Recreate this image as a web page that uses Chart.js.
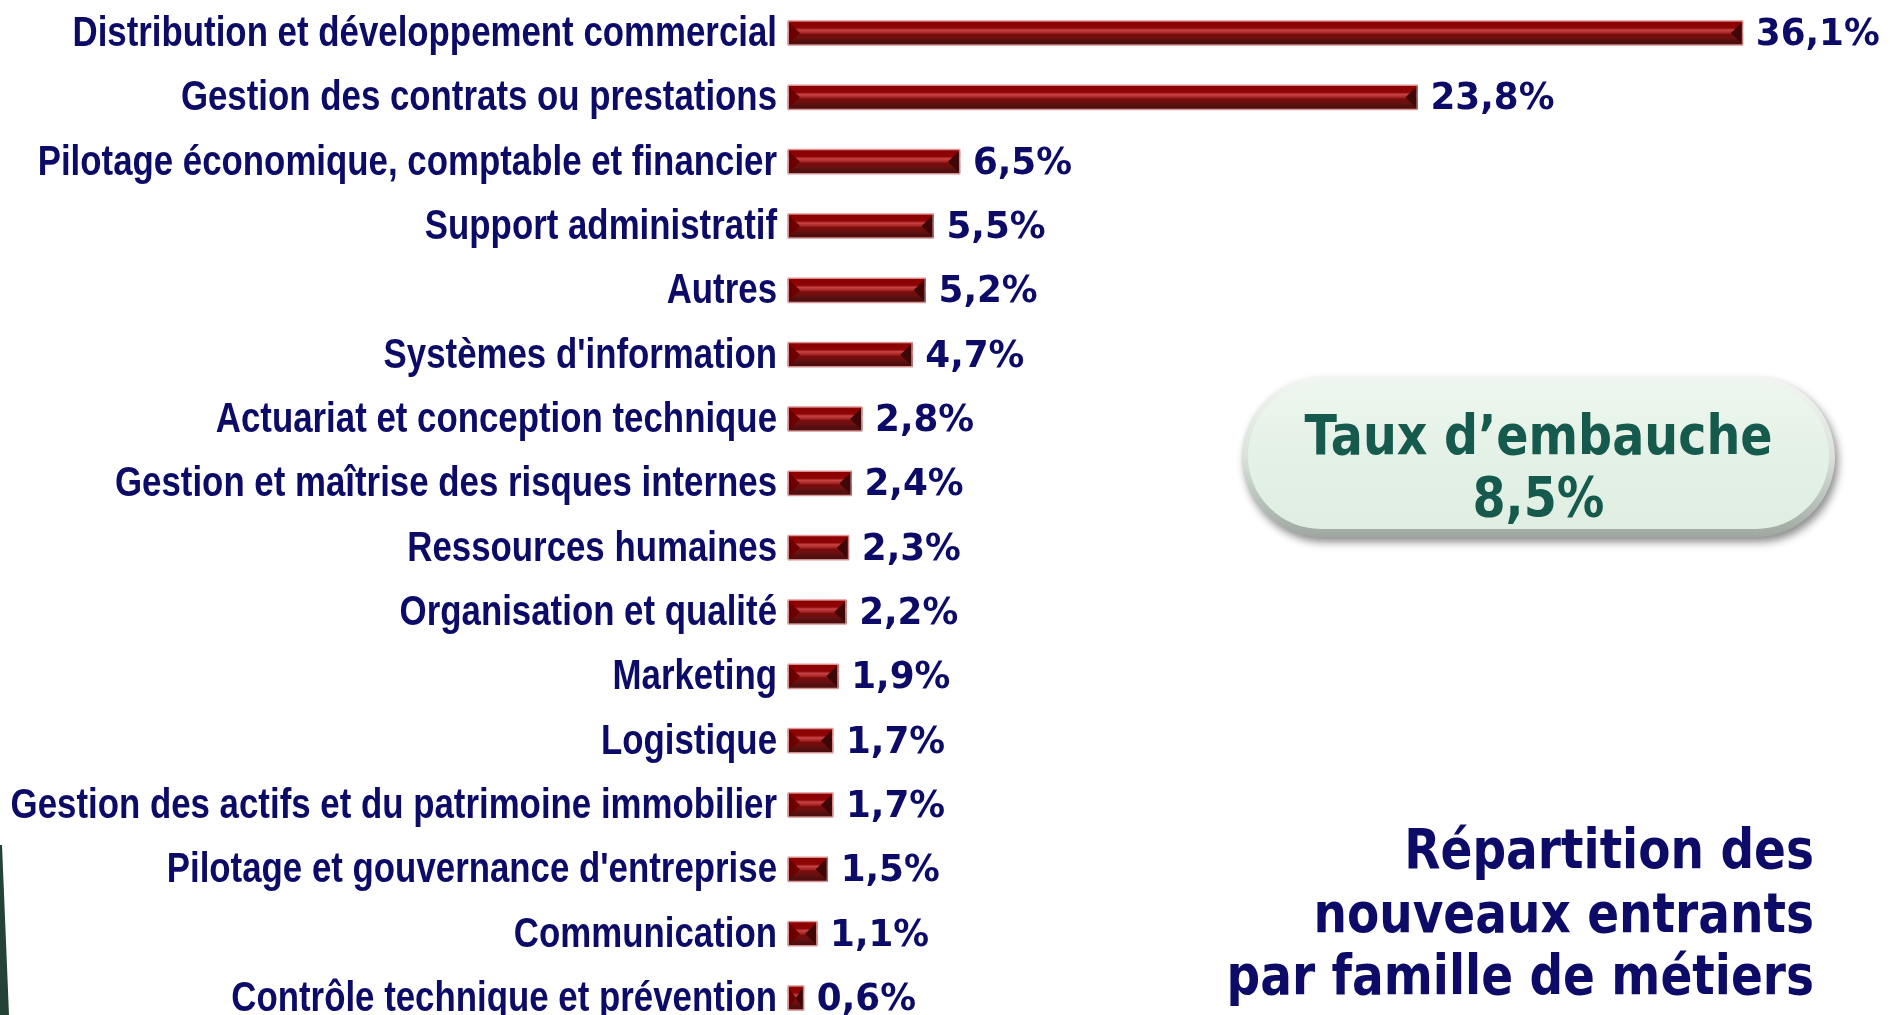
<!DOCTYPE html>
<html>
<head>
<meta charset="utf-8">
<script src="https://cdn.jsdelivr.net/npm/chart.js@4.4.1/dist/chart.umd.min.js"></script>
<style>
  html, body { margin: 0; padding: 0; background: #ffffff; }
  #wrap { position: relative; width: 1890px; height: 1015px; }
  canvas { display: block; }
</style>
</head>
<body>
<div id="wrap"><canvas id="c" width="1890" height="1015"></canvas></div>
<script>
const categories = [
  "Distribution et développement commercial",
  "Gestion des contrats ou prestations",
  "Pilotage économique, comptable et financier",
  "Support administratif",
  "Autres",
  "Systèmes d'information",
  "Actuariat et conception technique",
  "Gestion et maîtrise des risques internes",
  "Ressources humaines",
  "Organisation et qualité",
  "Marketing",
  "Logistique",
  "Gestion des actifs et du patrimoine immobilier",
  "Pilotage et gouvernance d'entreprise",
  "Communication",
  "Contrôle technique et prévention"
];
const values = [36.1, 23.8, 6.5, 5.5, 5.2, 4.7, 2.8, 2.4, 2.3, 2.2, 1.9, 1.7, 1.7, 1.5, 1.1, 0.6];
const pillLines = ["Taux d’embauche", "8,5%"];
const titleLines = ["Répartition des", "nouveaux entrants", "par famille de métiers"];

const BAR_H = 25;
const NAVY = '#0c0c68';
const GREEN = '#165a4e';

function fmt(v) { return v.toFixed(1).replace('.', ',') + '%'; }

function barGradient(c, y) {
  const t = y - BAR_H / 2;
  const g = c.createLinearGradient(0, t, 0, t + BAR_H);
  g.addColorStop(0.00, '#e3a9a9');
  g.addColorStop(0.06, '#8c0000');
  g.addColorStop(0.30, '#8e0606');
  g.addColorStop(0.38, '#c64444');
  g.addColorStop(0.50, '#a82424');
  g.addColorStop(0.56, '#7a0c0c');
  g.addColorStop(0.72, '#6a1010');
  g.addColorStop(0.80, '#561010');
  g.addColorStop(0.94, '#4e0d0d');
  g.addColorStop(1.00, '#d9a0a0');
  return g;
}

const decorPlugin = {
  id: 'decor',
  afterDatasetsDraw(chart) {
    const c = chart.ctx;
    const meta = chart.getDatasetMeta(0);
    c.save();
    // bevel ends
    meta.data.forEach((el) => {
      const x0 = Math.min(el.base, el.x), x1 = Math.max(el.base, el.x);
      const top = el.y - BAR_H / 2 + 1.5, bot = el.y + BAR_H / 2 - 1.5;
      const b = Math.min(12, (x1 - x0) / 2);
      c.fillStyle = '#6c0000';
      c.beginPath();
      c.moveTo(x0 + 0.5, top); c.lineTo(x0 + b, el.y); c.lineTo(x0 + 0.5, bot); c.closePath(); c.fill();
      c.fillStyle = '#3e0606';
      c.beginPath();
      c.moveTo(x1 - 0.5, top); c.lineTo(x1 - b, el.y); c.lineTo(x1 - 0.5, bot); c.closePath(); c.fill();
      c.strokeStyle = 'rgba(225,160,160,0.9)';
      c.lineWidth = 1;
      c.strokeRect(x0 + 0.5, el.y - BAR_H / 2 + 0.5, x1 - x0 - 1, BAR_H - 1);
    });
    // value labels
    c.fillStyle = NAVY;
    c.font = 'bold 38px "DejaVu Sans", Verdana, sans-serif';
    c.textAlign = 'left';
    c.textBaseline = 'middle';
    meta.data.forEach((el, i) => {
      c.save(); c.translate(el.x + 13, el.y + 2); c.scale(0.94, 1);
      c.fillText(fmt(values[i]), 0, 0);
      c.restore();
    });
    // category labels, placed on the y scale
    const ys = chart.scales.y;
    c.font = 'bold 43px "Liberation Sans", Arial, sans-serif';
    c.textAlign = 'right';
    c.textBaseline = 'middle';
    categories.forEach((t, i) => {
      const y = ys.getPixelForValue(i);
      c.save(); c.translate(ys.right - 11, y + 1); c.scale(0.81, 1);
      c.fillText(t, 0, 0);
      c.restore();
    });
    c.restore();
  },
  afterDraw(chart) {
    const c = chart.ctx;
    c.save();
    // pill
    const px = 1242, py = 377, pw = 593, ph = 160;
    function pillPath(x, y, w, h) {
      const rr = h / 2;
      c.beginPath();
      c.moveTo(x + rr, y);
      c.lineTo(x + w - rr, y);
      c.arc(x + w - rr, y + rr, rr, -Math.PI / 2, Math.PI / 2);
      c.lineTo(x + rr, y + h);
      c.arc(x + rr, y + rr, rr, Math.PI / 2, Math.PI * 1.5);
      c.closePath();
    }
    c.save();
    c.shadowColor = 'rgba(0,0,0,0.45)';
    c.shadowBlur = 8; c.shadowOffsetX = 3; c.shadowOffsetY = 5;
    pillPath(px, py, pw, ph);
    const og = c.createLinearGradient(0, py, 0, py + ph);
    og.addColorStop(0, '#f2f6f2'); og.addColorStop(0.5, '#d9e2da'); og.addColorStop(1, '#9ea8a0');
    c.fillStyle = og; c.fill();
    c.restore();
    pillPath(px + 6, py + 6, pw - 12, ph - 14);
    const ig = c.createLinearGradient(0, py, 0, py + ph);
    ig.addColorStop(0, '#eef7ef'); ig.addColorStop(0.5, '#e4f1e6'); ig.addColorStop(1, '#e0eee2');
    c.fillStyle = ig; c.fill();

    c.fillStyle = GREEN;
    c.textAlign = 'center';
    c.textBaseline = 'alphabetic';
    c.font = 'bold 56px "DejaVu Sans", Tahoma, sans-serif';
    const cx = px + pw / 2;
    [[pillLines[0], 454], [pillLines[1], 516]].forEach(([t, y]) => {
      c.save(); c.translate(cx, y); c.scale(0.85, 1); c.fillText(t, 0, 0); c.restore();
    });

    // title block, right aligned
    c.fillStyle = NAVY;
    c.textAlign = 'right';
    c.font = 'bold 56px "DejaVu Sans", Tahoma, sans-serif';
    const tb = [868, 932, 994];
    titleLines.forEach((t, i) => {
      c.save(); c.translate(1814, tb[i]); c.scale(0.84, 1); c.fillText(t, 0, 0); c.restore();
    });

    // bottom-left decorative strip
    c.fillStyle = '#244236';
    c.beginPath();
    c.moveTo(0, 845); c.lineTo(2, 845); c.lineTo(9, 1015); c.lineTo(0, 1015); c.closePath(); c.fill();
    c.restore();
  }
};

new Chart(document.getElementById('c'), {
  type: 'bar',
  data: {
    labels: categories,
    datasets: [{
      data: values,
      barThickness: BAR_H,
      clip: false,
      borderWidth: 0,
      borderSkipped: false,
      backgroundColor: (ctx) => {
        const chart = ctx.chart;
        if (!chart.chartArea) return '#8b0000';
        const y = chart.scales.y.getPixelForValue(ctx.dataIndex);
        return barGradient(chart.ctx, y);
      }
    }]
  },
  options: {
    indexAxis: 'y',
    responsive: false,
    animation: false,
    devicePixelRatio: 1,
    layout: { padding: { top: 33, bottom: 17, left: 0, right: 44 } },
    plugins: { legend: { display: false }, tooltip: { enabled: false } },
    scales: {
      x: { display: false, min: 0, max: 40 },
      y: {
        offset: false,
        grid: { display: false },
        border: { display: false },
        afterFit(scale) { scale.width = 788; },
        ticks: { display: false }
      }
    }
  },
  plugins: [decorPlugin]
});
</script>
</body>
</html>
